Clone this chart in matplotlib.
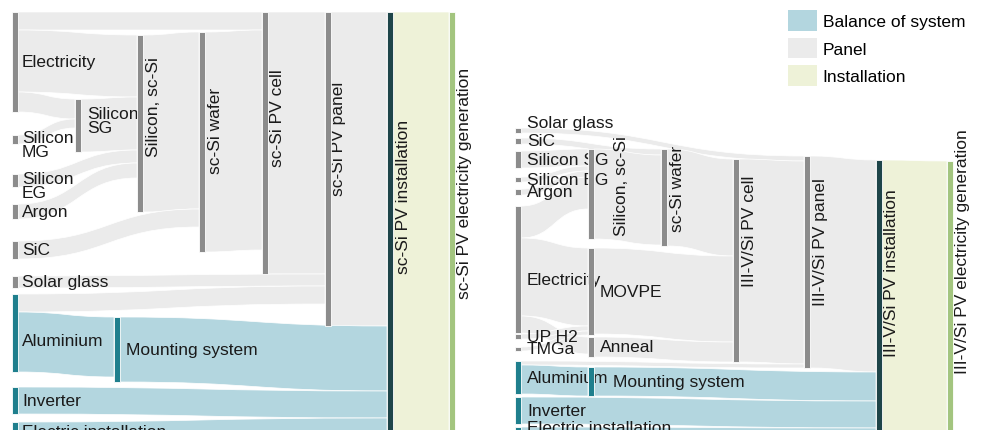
import matplotlib.pyplot as plt
from matplotlib.path import Path
from matplotlib.patches import PathPatch, Rectangle, Patch

plt.rcParams['font.family'] = ['Liberation Sans', 'DejaVu Sans']

# ---- sc-Si PV chain ----
sc_src = ['Electricity', 'Electricity', 'Electricity', 'Silicon MG', 'Silicon SG',
          'Silicon EG', 'Argon', 'Silicon, sc-Si', 'SiC', 'sc-Si wafer',
          'sc-Si PV cell', 'Solar glass', 'Aluminium', 'Aluminium',
          'sc-Si PV panel', 'Mounting system', 'Inverter', 'Electric installation',
          'sc-Si PV installation']
sc_tgt = ['sc-Si PV cell', 'Silicon, sc-Si', 'Silicon SG', 'Silicon SG', 'Silicon, sc-Si',
          'Silicon, sc-Si', 'Silicon, sc-Si', 'sc-Si wafer', 'sc-Si wafer', 'sc-Si PV cell',
          'sc-Si PV panel', 'sc-Si PV panel', 'sc-Si PV panel', 'Mounting system',
          'sc-Si PV installation', 'sc-Si PV installation', 'sc-Si PV installation',
          'sc-Si PV installation', 'sc-Si PV electricity generation']
sc_val = [18, 62, 20, 9, 53, 13, 15, 177, 18, 220, 262, 12, 18, 60, 314, 65, 27, 20, 426]

# ---- III-V/Si PV chain ----
tj_src = ['Solar glass', 'SiC', 'Silicon SG', 'Silicon EG', 'Argon', 'Electricity',
          'Electricity', 'Electricity', 'UP H2', 'TMGa', 'Silicon, sc-Si', 'sc-Si wafer',
          'MOVPE', 'Anneal', 'III-V/Si PV cell', 'Aluminium', 'Aluminium',
          'III-V/Si PV panel', 'Mounting system', 'Inverter', 'Electric installation',
          'III-V/Si PV installation']
tj_tgt = ['III-V/Si PV panel', 'sc-Si wafer', 'Silicon, sc-Si', 'Silicon, sc-Si',
          'Silicon, sc-Si', 'Silicon, sc-Si', 'MOVPE', 'Anneal', 'MOVPE', 'MOVPE',
          'sc-Si wafer', 'III-V/Si PV cell', 'III-V/Si PV cell', 'III-V/Si PV cell',
          'III-V/Si PV panel', 'III-V/Si PV panel', 'Mounting system',
          'III-V/Si PV installation', 'III-V/Si PV installation', 'III-V/Si PV installation',
          'III-V/Si PV installation', 'III-V/Si PV electricity generation']
tj_val = [5, 6, 17, 5, 6, 32, 78, 17, 5, 4, 90, 97, 86, 20, 203, 4, 29, 212, 29, 27, 12, 280]

legend_labels = ['Balance of system', 'Panel', 'Installation']

# layout: node left edge and top (pixels, y grows downward)
sc_pos = {
    'Electricity': (12, 13), 'Silicon MG': (12, 136), 'Silicon EG': (12, 175),
    'Argon': (12, 205), 'SiC': (12, 242), 'Solar glass': (12, 277),
    'Aluminium': (12, 295), 'Inverter': (12, 388), 'Electric installation': (12, 423),
    'Silicon SG': (75, 100), 'Mounting system': (114, 318),
    'Silicon, sc-Si': (137, 36), 'sc-Si wafer': (199, 33), 'sc-Si PV cell': (262, 13),
    'sc-Si PV panel': (325, 13), 'sc-Si PV installation': (387, 13),
    'sc-Si PV electricity generation': (449, 13),
}
tj_pos = {
    'Solar glass': (515, 129), 'SiC': (515, 139), 'Silicon SG': (515, 152),
    'Silicon EG': (515, 178), 'Argon': (515, 190), 'Electricity': (515, 207),
    'UP H2': (515, 335), 'TMGa': (515, 348), 'Aluminium': (515, 362),
    'Inverter': (515, 398), 'Electric installation': (515, 428),
    'Silicon, sc-Si': (588, 150), 'MOVPE': (588, 249), 'Anneal': (588, 338),
    'Mounting system': (588, 368), 'sc-Si wafer': (661, 150),
    'III-V/Si PV cell': (733, 160), 'III-V/Si PV panel': (804, 157),
    'III-V/Si PV installation': (876, 161),
    'III-V/Si PV electricity generation': (947, 162),
}
sc_rotated = ['Silicon, sc-Si', 'sc-Si wafer', 'sc-Si PV cell', 'sc-Si PV panel',
              'sc-Si PV installation', 'sc-Si PV electricity generation']
tj_rotated = ['Silicon, sc-Si', 'sc-Si wafer', 'III-V/Si PV cell', 'III-V/Si PV panel',
              'III-V/Si PV installation', 'III-V/Si PV electricity generation']
sc_wrap = {'Silicon MG': 'Silicon\nMG', 'Silicon EG': 'Silicon\nEG', 'Silicon SG': 'Silicon\nSG'}
sc_shift = {'sc-Si PV panel': (-3, 0), 'Silicon MG': (-2, 5), 'Silicon EG': (-2, 5),
            'Silicon SG': (0, -5), 'Aluminium': (-2, 8), 'sc-Si wafer': (0, 10),
            'sc-Si PV installation': (0, 14), 'Electricity': (-2, 0), 'Argon': (-2, 0),
            'SiC': (-2, 0), 'Solar glass': (-2, 0), 'Inverter': (-2, 0),
            'Electric installation': (-2, 0)}
tj_shift = {'Solar glass': (0, -8), 'Electricity': (0, 10), 'Electric installation': (0, -5),
            'Mounting system': (13, 0), 'Silicon, sc-Si': (18, 0), 'III-V/Si PV cell': (0, -10),
            'III-V/Si PV electricity generation': (0, -22)}

NODE_W = 6
C_BOS = '#b3d6df'
C_PANEL = '#ebebeb'
C_INST = '#eef2d8'
C_NODE = '#8c8c8c'
C_BOS_NODE = '#1f7f8d'
C_INST_NODE = '#1e4549'
C_GEN_NODE = '#a3c57f'
BOS = {'Mounting system', 'Inverter', 'Electric installation'}
FS = 12.5


def node_color(name):
    if name in BOS or name == 'Aluminium':
        return C_BOS_NODE
    if name.endswith('installation') and 'PV' in name:
        return C_INST_NODE
    if name.endswith('generation'):
        return C_GEN_NODE
    return C_NODE


def flow_color(s, t):
    if s.endswith('PV installation'):
        return C_INST
    if s in BOS or t in BOS:
        return C_BOS
    return C_PANEL


def draw_sankey(ax, src, tgt, val, pos, rotated, wrap={}, shift={}):
    names = list(pos)
    inflow = {n: 0 for n in names}
    outflow = {n: 0 for n in names}
    for s, t, v in zip(src, tgt, val):
        outflow[s] += v
        inflow[t] += v
    height = {n: max(inflow[n], outflow[n]) for n in names}

    idx = range(len(val))
    out_off, in_off = {}, {}
    for n in names:
        acc = pos[n][1]
        for i in sorted([i for i in idx if src[i] == n], key=lambda i: (pos[tgt[i]][1], pos[tgt[i]][0])):
            out_off[i] = acc
            acc += val[i]
        acc = pos[n][1]
        for i in sorted([i for i in idx if tgt[i] == n], key=lambda i: (pos[src[i]][1], pos[src[i]][0])):
            in_off[i] = acc
            acc += val[i]

    for i in idx:
        s, t, v = src[i], tgt[i], val[i]
        x0 = pos[s][0] + NODE_W
        x1 = pos[t][0]
        xm = (x0 + x1) / 2
        y0, y1 = out_off[i], in_off[i]
        verts = [(x0, y0), (xm, y0), (xm, y1), (x1, y1), (x1, y1 + v),
                 (xm, y1 + v), (xm, y0 + v), (x0, y0 + v), (x0, y0)]
        codes = [Path.MOVETO, Path.CURVE4, Path.CURVE4, Path.CURVE4, Path.LINETO,
                 Path.CURVE4, Path.CURVE4, Path.CURVE4, Path.CLOSEPOLY]
        ax.add_patch(PathPatch(Path(verts, codes), facecolor=flow_color(s, t),
                               edgecolor='white', linewidth=0.5, zorder=1))

    for n in names:
        x, y = pos[n]
        h = height[n]
        ax.add_patch(Rectangle((x, y), NODE_W, h, facecolor=node_color(n),
                               edgecolor='white', linewidth=0.6, zorder=4))
        dx, dy = shift.get(n, (0, 0))
        if n in rotated:
            ax.text(x + NODE_W / 2 + 13 + dx, y + 0.4 * h + dy, n, rotation=90,
                    ha='center', va='center', fontsize=FS, color='#1a1a1a', zorder=3)
        else:
            ax.text(x + NODE_W + 6 + dx, y + h / 2 + dy, wrap.get(n, n),
                    ha='left', va='center', fontsize=FS, color='#1a1a1a',
                    linespacing=0.85, zorder=3)


fig = plt.figure(figsize=(9.81, 4.31), dpi=100)
ax = fig.add_axes([0, 0, 1, 1])
ax.set_xlim(0, 981)
ax.set_ylim(431, 0)
ax.axis('off')

draw_sankey(ax, sc_src, sc_tgt, sc_val, sc_pos, sc_rotated, sc_wrap, sc_shift)
draw_sankey(ax, tj_src, tj_tgt, tj_val, tj_pos, tj_rotated, {}, tj_shift)

handles = [Patch(facecolor=c) for c in (C_BOS, C_PANEL, C_INST)]
fig.legend(handles, legend_labels, loc='upper left', bbox_to_anchor=(788 / 981, 1 - 11 / 431),
           frameon=False, fontsize=FS, handlelength=1.65, handleheight=1.45,
           labelspacing=0.4, handletextpad=0.35, borderpad=0, borderaxespad=0)

fig.savefig('out.png', dpi=100)
